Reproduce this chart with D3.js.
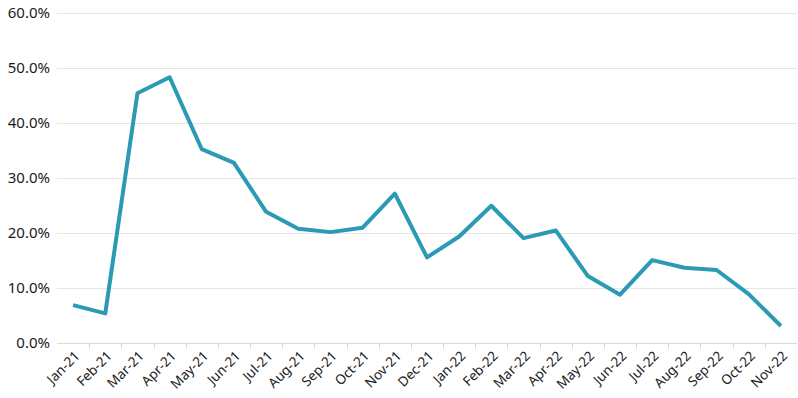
<!DOCTYPE html>
<html>
<head>
<meta charset="utf-8">
<script src="https://cdn.jsdelivr.net/npm/d3@7"></script>
<style>
  body { margin: 0; background: #fff; }
  svg { display: block; font-family: "Noto Sans", "Open Sans", sans-serif; }
</style>
</head>
<body>
<div id="chart"></div>
<script>
const months = ["Jan-21","Feb-21","Mar-21","Apr-21","May-21","Jun-21","Jul-21","Aug-21","Sep-21","Oct-21","Nov-21","Dec-21",
  "Jan-22","Feb-22","Mar-22","Apr-22","May-22","Jun-22","Jul-22","Aug-22","Sep-22","Oct-22","Nov-22"];
const values = [6.8, 5.3, 45.4, 48.3, 35.2, 32.7, 23.8, 20.7, 20.1, 20.9, 27.1, 15.5,
  19.3, 24.9, 19.0, 20.4, 12.1, 8.7, 15.0, 13.6, 13.2, 8.8, 3.0];
const yTicks = [0, 10, 20, 30, 40, 50, 60];

const width = 798, height = 398;
const margin = {top: 13, right: 1, bottom: 56, left: 57};

const svg = d3.select("#chart").append("svg")
    .attr("width", width)
    .attr("height", height);

const x = d3.scaleBand()
    .domain(months)
    .range([margin.left, width - margin.right]);

const y = d3.scaleLinear()
    .domain([0, 60])
    .range([height - margin.bottom + 0.5, margin.top]);

// gridlines
svg.append("g")
  .selectAll("line")
  .data(yTicks.filter(d => d > 0))
  .join("line")
    .attr("x1", margin.left)
    .attr("x2", width - margin.right)
    .attr("y1", d => Math.round(y(d)) + 0.5)
    .attr("y2", d => Math.round(y(d)) + 0.5)
    .attr("stroke", "#e6e6e6")
    .attr("stroke-width", 1);

// y labels
svg.append("g")
  .selectAll("text")
  .data(yTicks)
  .join("text")
    .attr("x", 50)
    .attr("y", d => y(d))
    .attr("dy", "0.35em")
    .attr("text-anchor", "end")
    .attr("font-size", 15)
    .attr("fill", "#1a1a1a")
    .text(d => d.toFixed(1) + "%");

// x axis baseline and ticks at band boundaries
const base = Math.round(y(0)) + 0.5;
svg.append("line")
    .attr("x1", margin.left)
    .attr("x2", width - margin.right)
    .attr("y1", base)
    .attr("y2", base)
    .attr("stroke", "#d9d9d9");

svg.append("g")
  .selectAll("line")
  .data(months.slice(1))
  .join("line")
    .attr("x1", d => Math.round(x(d)) + 0.5)
    .attr("x2", d => Math.round(x(d)) + 0.5)
    .attr("y1", base)
    .attr("y2", base + 5)
    .attr("stroke", "#d9d9d9");

// x labels rotated
svg.append("g")
  .selectAll("text")
  .data(months)
  .join("text")
    .attr("transform", d => `translate(${x(d) + x.bandwidth() / 2 + 4},${base + 10}) rotate(-45)`)
    .attr("text-anchor", "end")
    .attr("dy", "0.35em")
    .attr("font-size", 13.5)
    .attr("fill", "#1a1a1a")
    .text(d => d);

// line
const line = d3.line()
    .x((d, i) => x(months[i]) + x.bandwidth() / 2)
    .y(d => y(d));

svg.append("path")
    .datum(values)
    .attr("fill", "none")
    .attr("stroke", "#2b9ab4")
    .attr("stroke-width", 4)
    .attr("stroke-linejoin", "round")
    .attr("d", line);
</script>
</body>
</html>
